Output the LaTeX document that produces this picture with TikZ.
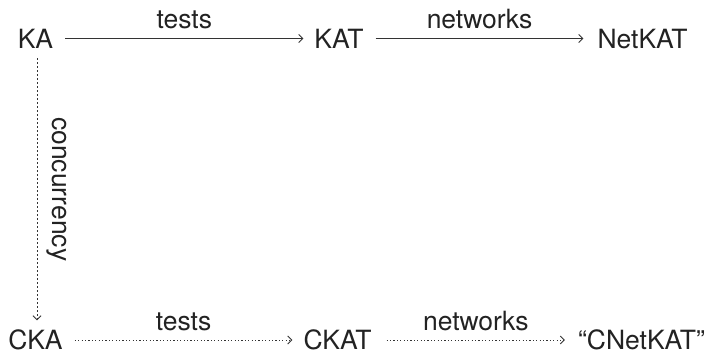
\documentclass[tikz,border=0pt]{standalone}
\usepackage{fontspec}
\setmainfont{TeX Gyre Heros}
\usetikzlibrary{arrows.meta}
\definecolor{ink}{HTML}{222222}
\definecolor{wire}{HTML}{333333}
\begin{document}
\begin{tikzpicture}[x=1pt, y=-1pt,
  font=\fontsize{26.5}{30}\selectfont,
  obj/.style={inner sep=0pt, text height=19pt, text depth=0pt, anchor=base, text=ink},
  lbl/.style={inner sep=0pt, anchor=base, text=ink},
  tip/.style={-{Straight Barb[length=4pt, width=8pt]}},
  mapsolid/.style={tip, draw=wire, line width=0.9pt},
  mapdotted/.style={tip, draw=wire, line width=0.9pt, dash pattern=on 1.2pt off 2.2pt},
  mapdashed/.style={tip, draw=wire, line width=0.9pt, dash pattern=on 2pt off 2pt}]
  \useasboundingbox (0,0) rectangle (710,354);

  % objects
  \node[obj] (ka)      at (35.5,48)  {KA};
  \node[obj] (kat)     at (339,48)   {KAT};
  \node[obj] (netkat)  at (642.5,48) {NetKAT};
  \node[obj] (cka)     at (35.5,349.5) {CKA};
  \node[obj] (ckat)    at (337.5,349.5){CKAT};
  \node[obj] (cnetkat) at (641.5,349.5){“CNetKAT”};

  % established extensions
  \draw[mapsolid] ([xshift=12pt]ka.east) -- ([xshift=-11pt]kat.west)
    node[lbl, midway, yshift=10pt] {tests};
  \draw[mapsolid] ([xshift=12pt]kat.east) -- ([xshift=-14pt]netkat.west)
    node[lbl, midway, yshift=10pt] {networks};

  % concurrent extensions
  \draw[mapdashed] ([shift={(1.5pt,-10pt)}]ka.south) -- coordinate[midway] (cmid)
    ([shift={(1.5pt,10pt)}]cka.north);
  \node[lbl, rotate=-90] (conc) at ([xshift=15pt]cmid) {concurrency};

  \draw[mapdotted] ([xshift=12pt]cka.east) -- ([xshift=-11pt]ckat.west)
    node[lbl, midway, yshift=10pt] {tests};
  \draw[mapdotted] ([xshift=15pt]ckat.east) -- ([xshift=-13pt]cnetkat.west)
    node[lbl, midway, yshift=10pt] {networks};
\end{tikzpicture}
\end{document}
